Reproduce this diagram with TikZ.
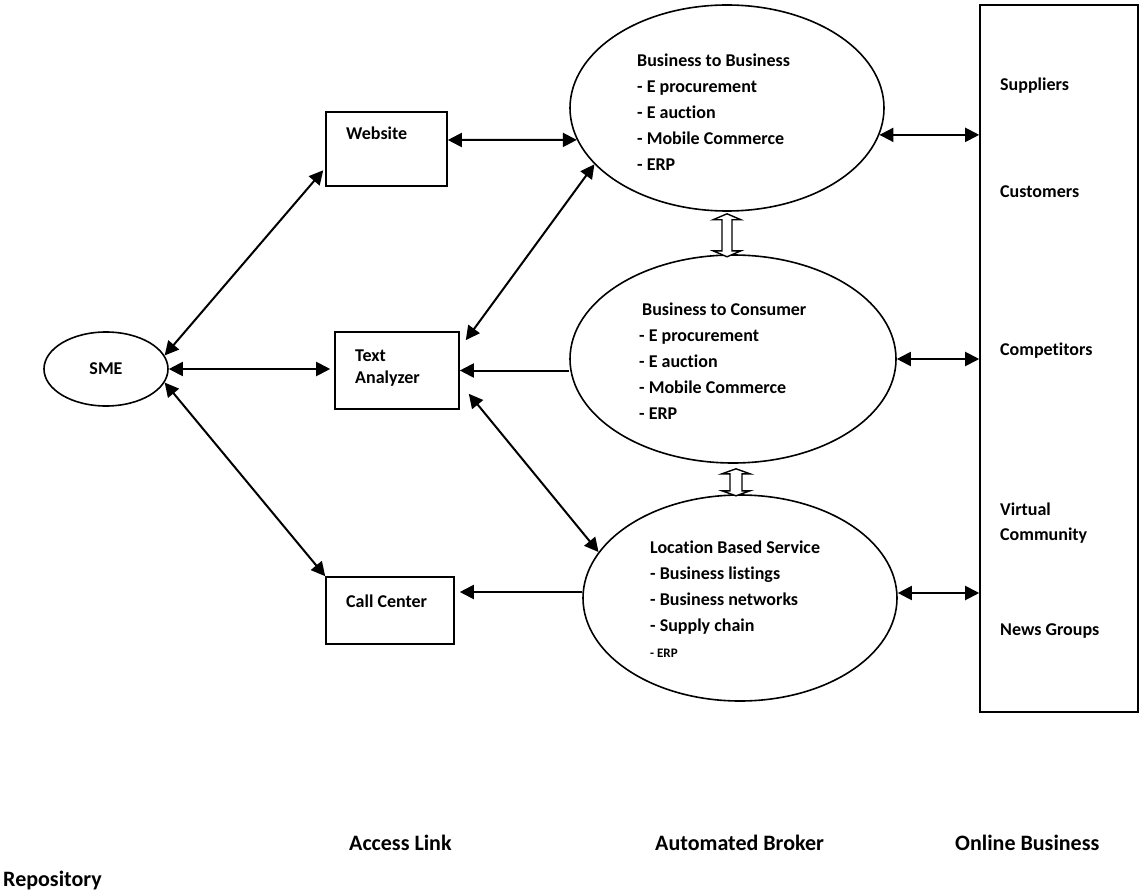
\documentclass[tikz,border=0pt]{standalone}
\usepackage{fontspec}
\setmainfont{Carlito}[Ligatures={NoCommon}]
\usetikzlibrary{arrows.meta,shapes.geometric,calc}
\begin{document}
\begin{tikzpicture}[x=1pt,y=-1pt,
  every node/.style={font=\bfseries\fontsize{18}{26}\selectfont, inner sep=0pt},
  box/.style={draw, line width=1.6pt, rectangle},
  oval/.style={draw, line width=1.6pt, ellipse},
  tip/.tip={Triangle[length=14pt,width=14pt]},
  link/.style={line width=2pt, tip-tip},
  oneway/.style={line width=2pt, -tip},
  hollow/.style={line width=1.4pt, fill=white, line join=miter},
  lbl/.style={anchor=base west},
  biglbl/.style={anchor=base west, font=\bfseries\fontsize{22}{26}\selectfont},
]
\useasboundingbox (0,0) rectangle (1139,893);

% nodes
\node[oval, minimum width=124pt, minimum height=74pt] (sme) at (106,369) {SME};
\node[box, minimum width=121pt, minimum height=74pt] (web) at (386.5,149) {};
\node[lbl] (webt) at (346,140) {Website};
\node[box, minimum width=124pt, minimum height=77pt] (ta) at (397,370.5) {};
\node[anchor=north west, align=left, font=\bfseries\fontsize{18}{22}\selectfont] (tat) at (355,350) {Text\\Analyzer};
\node[box, minimum width=128pt, minimum height=67pt] (cc) at (390,610.5) {};
\node[lbl] (cct) at (346,607) {Call Center};

\node[oval, minimum width=314pt, minimum height=206pt] (b2b) at (727,108) {};
\node[anchor=north west, align=left] (b2bt) at (637,54) {Business to Business\\- E procurement\\- E auction\\- Mobile Commerce\\- ERP};
\node[oval, minimum width=326pt, minimum height=208pt] (b2c) at (733,359) {};
\node[anchor=north west, align=left] (b2ct) at (639,303) {\hspace*{3pt}Business to Consumer\\- E procurement\\- E auction\\- Mobile Commerce\\- ERP};
\node[oval, minimum width=314pt, minimum height=206pt] (lbs) at (740,598) {};
\node[anchor=north west, align=left] (lbst) at (650,541) {Location Based Service\\- Business listings\\- Business networks\\- Supply chain\\{\fontsize{13}{26}\selectfont - ERP}};

\node[box, minimum width=158pt, minimum height=707pt] (ob) at (1059,358.5) {};
\node[lbl] (sup) at (1000,91) {Suppliers};
\node[lbl] (cus) at (1000,198) {Customers};
\node[lbl] (com) at (1000,355) {Competitors};
\node[anchor=north west, align=left, font=\bfseries\fontsize{18}{25}\selectfont] (vc) at (1000,503) {Virtual\\Community};
\node[lbl] (ng) at (1000,635) {News Groups};

\node[biglbl] (al) at (349,850) {Access Link};
\node[biglbl] (ab) at (655,850) {Automated Broker};
\node[biglbl] (obl) at (955,850) {Online Business};
\node[biglbl] (rep) at (3,886) {Repository};

% connectors
\draw[link, shorten >=3pt] (sme.13) -- ([yshift=-19pt]web.west);
\draw[link, shorten >=4pt] (sme.east) -- (sme.east -| ta.west);
\draw[link] (sme.-13) -- (cc.north west);
\draw[link] ([yshift=9pt]web.east) -- (b2b.192);
\draw[link] ([xshift=6pt,yshift=-9pt]ta.north east) -- (b2b.203);
\draw[link] ([xshift=9pt,yshift=16pt]ta.south east) -- (lbs.162);
\draw[oneway] (b2c.west |- ta.east) -- (ta.east);
\draw[oneway, shorten >=5pt] ([yshift=6pt]lbs.west) -- ([yshift=6pt]lbs.west -| cc.east);
\draw[link] (b2b.-10) -- (b2b.-10 -| ob.west);
\draw[link] (b2c.east) -- (b2c.east -| ob.west);
\draw[link] ([yshift=5pt]lbs.east) -- ([yshift=5pt]lbs.east -| ob.west);

% hollow double arrows between broker ellipses
\draw[hollow] ([yshift=-2pt]b2b.south) -- ++(14,6) -- ++(-9,0) -- ++(0,31) -- ++(9,0) -- ++(-14,6) -- ++(-14,-6) -- ++(9,0) -- ++(0,-31) -- ++(-9,0) -- cycle;
\draw[hollow] ([xshift=3pt,yshift=-5pt]b2c.south) -- ++(14,5) -- ++(-8,0) -- ++(0,17) -- ++(8,0) -- ++(-14,5) -- ++(-14,-5) -- ++(8,0) -- ++(0,-17) -- ++(-8,0) -- cycle;
\end{tikzpicture}
\end{document}
